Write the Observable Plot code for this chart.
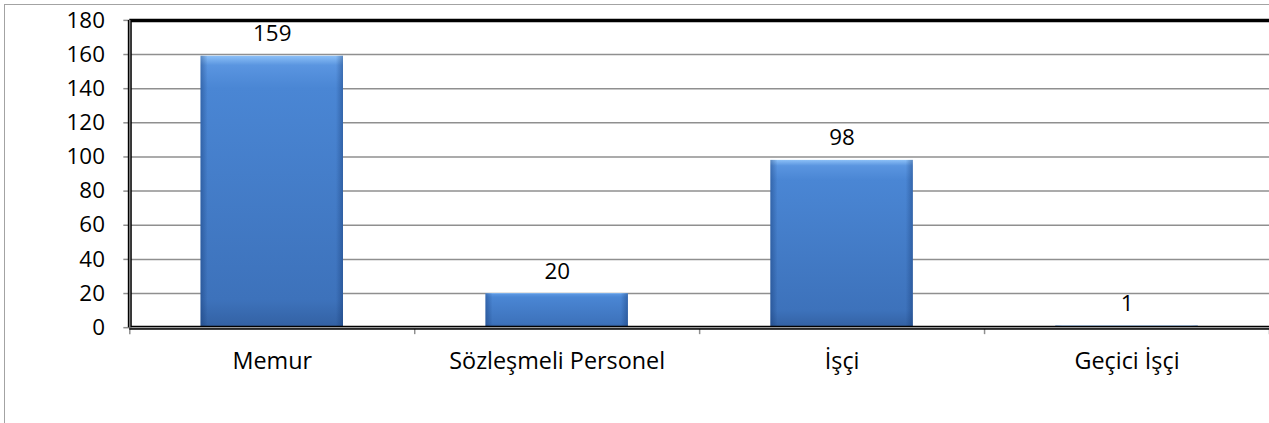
<!DOCTYPE html>
<html>
<head>
<meta charset="utf-8">
<script src="https://cdn.jsdelivr.net/npm/d3@7"></script>
<script src="https://cdn.jsdelivr.net/npm/@observablehq/plot@0.6"></script>
<style>
  html, body { margin: 0; padding: 0; overflow: hidden; background: #fff; }
  #wrap { position: relative; width: 1269px; height: 423px; overflow: hidden; }
  #frame { position: absolute; left: 4px; top: 4px; width: 3000px; height: 3000px;
           border-left: 1.5px solid #a3a3a3; border-top: 1.5px solid #a3a3a3; }
  #chart { position: absolute; left: 0; top: 0; }
</style>
</head>
<body>
<div id="wrap"><div id="frame"></div><div id="chart"></div></div>
<script>
const categories = ["Memur", "Sözleşmeli Personel", "İşçi", "Geçici İşçi"];
const values = [159, 20, 98, 1];
const yTicks = [0, 20, 40, 60, 80, 100, 120, 140, 160, 180];
const gridTicks = [20, 40, 60, 80, 100, 120, 140, 160];

const data = categories.map((c, i) => ({category: c, index: i, value: values[i]}));
const boundaries = d3.range(categories.length + 1);
const centers = categories.map((c, i) => i + 0.5);

function defsMark() {
  const ns = "http://www.w3.org/2000/svg";
  const defs = document.createElementNS(ns, "defs");
  defs.innerHTML = `
    <linearGradient id="barV" x1="0" y1="0" x2="0" y2="1">
      <stop offset="0" stop-color="#8cc0f7"/>
      <stop offset="0.035" stop-color="#5a95e0"/>
      <stop offset="0.12" stop-color="#4a86d4"/>
      <stop offset="0.9" stop-color="#3d72bb"/>
      <stop offset="1" stop-color="#3361a3"/>
    </linearGradient>
    <linearGradient id="barH" x1="0" y1="0" x2="1" y2="0">
      <stop offset="0" stop-color="#0a2a60" stop-opacity="0.35"/>
      <stop offset="0.05" stop-color="#0a2a60" stop-opacity="0"/>
      <stop offset="0.95" stop-color="#0a2a60" stop-opacity="0"/>
      <stop offset="1" stop-color="#0a2a60" stop-opacity="0.35"/>
    </linearGradient>`;
  return defs;
}

const chart = Plot.plot({
  width: 1276,
  height: 423,
  marginLeft: 130,
  marginRight: 0,
  marginTop: 20,
  marginBottom: 94,
  x: {type: "linear", domain: [0, categories.length]},
  y: {domain: [0, 180]},
  style: {fontFamily: "'Open Sans', sans-serif", fontSize: "22px", color: "#000", background: "transparent", overflow: "visible"},
  marks: [
    defsMark,
    Plot.gridY(gridTicks, {stroke: "#8f8f8f", strokeOpacity: 1, strokeWidth: 1.5}),
    Plot.rectY(data, {x1: d => d.index + 0.25, x2: d => d.index + 0.75, y: "value", fill: "url(#barV)"}),
    Plot.rectY(data, {x1: d => d.index + 0.25, x2: d => d.index + 0.75, y: "value", fill: "url(#barH)"}),
    Plot.text(data, {x: d => d.index + 0.5, y: "value", text: d => String(d.value), lineAnchor: "bottom", dy: -15, fontSize: 22.5, fill: "#000"}),
    Plot.axisY(yTicks, {tickSize: 6, tickPadding: 19, stroke: "#8f8f8f", strokeWidth: 1.5, fontSize: 22.5, fill: "#000", label: null, tickFormat: d => String(d)}),
    Plot.axisX(centers, {tickSize: 0, tickPadding: 25, fontSize: 23.5, fill: "#000", label: null, tickFormat: v => categories[Math.floor(v)]}),
    Plot.axisX(boundaries, {tickSize: 7, stroke: "#8f8f8f", strokeWidth: 1.5, label: null, tickFormat: () => ""}),
    Plot.ruleY([180], {stroke: "#000", strokeWidth: 3.5}),
    Plot.ruleY([0], {stroke: "#000", strokeWidth: 4}),
    Plot.ruleY([0], {stroke: "#9a9a9a", strokeWidth: 1.2}),
    Plot.ruleX([0], {stroke: "#000", strokeWidth: 4}),
    Plot.ruleX([0], {stroke: "#9a9a9a", strokeWidth: 1.2})
  ]
});
document.getElementById("chart").appendChild(chart);
</script>
</body>
</html>
